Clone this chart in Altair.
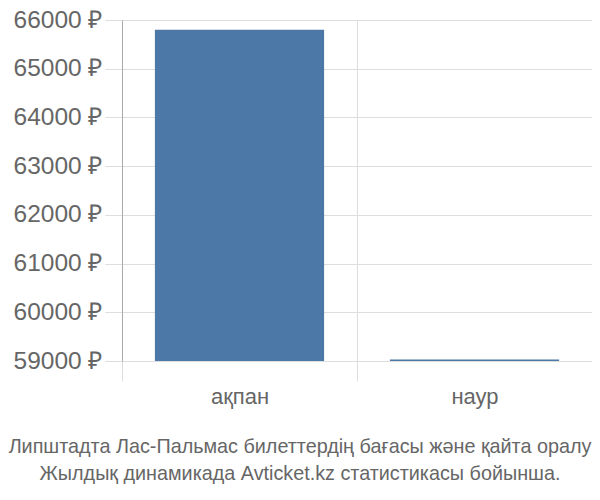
import altair as alt
import pandas as pd

months = ["ақпан", "наур"]
prices = [65800, 59030]
title_lines = [
    "Липштадта Лас-Пальмас билеттердің бағасы және қайта оралу",
    "Жылдық динамикада Avticket.kz статистикасы бойынша.",
]

df = pd.DataFrame({"month": months, "price": prices})

chart = alt.Chart(df).mark_bar(color="#4c78a8", width=alt.RelativeBandSize(0.72), clip=True).encode(
    x=alt.X("month:N", sort=months, title=None,
            scale=alt.Scale(paddingInner=0, paddingOuter=0),
            axis=alt.Axis(tickBand="extent", grid=True, gridColor="#dddddd",
                          tickColor="#dddddd", tickSize=20, domain=False,
                          labelAngle=0, labelFontSize=22, labelColor="#666666",
                          labelPadding=5, labelFont="Liberation Sans")),
    y=alt.Y("price:Q", title=None,
            scale=alt.Scale(domain=[59000, 66000], zero=False, nice=False, clamp=True),
            axis=alt.Axis(values=list(range(59000, 66001, 1000)),
                          labelExpr="datum.value + ' ₽'",
                          grid=True, gridColor="#dddddd", tickColor="#dddddd",
                          tickSize=17, domain=True, domainColor="#aaaaaa",
                          labelFontSize=24.5, labelColor="#666666", labelPadding=3,
                          labelFont="Liberation Sans")),
).properties(
    width=470, height=341,
    title=alt.TitleParams(title_lines, orient="bottom", anchor="middle",
                          fontSize=19.8, font="Liberation Sans", fontWeight="normal",
                          color="#666666", lineHeight=27, offset=30, dx=-57),
    autosize=alt.AutoSizeParams(type="none"),
    padding={"left": 114, "top": 12, "right": 0, "bottom": 128},
).configure_view(stroke=None)

chart.save("out.html", embed_options={"renderer": "svg", "actions": False})
